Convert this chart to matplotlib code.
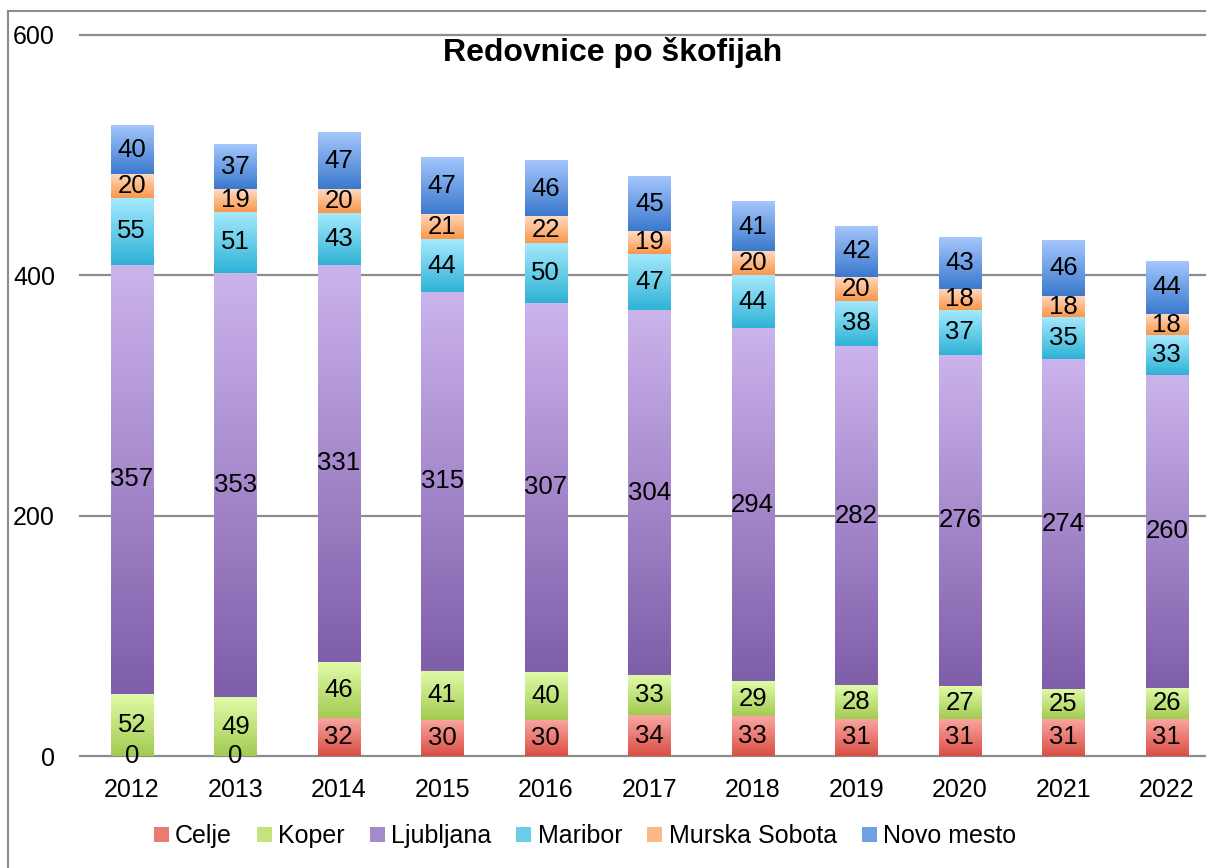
import numpy as np
import matplotlib
matplotlib.use('Agg')
import matplotlib.pyplot as plt
from matplotlib.colors import to_rgb
from matplotlib.patches import Patch
from matplotlib.lines import Line2D

plt.rcParams['font.family'] = ['Liberation Sans', 'DejaVu Sans']

# data
years = ['2012', '2013', '2014', '2015', '2016', '2017', '2018', '2019', '2020', '2021', '2022']
celje = [0, 0, 32, 30, 30, 34, 33, 31, 31, 31, 31]
koper = [52, 49, 46, 41, 40, 33, 29, 28, 27, 25, 26]
ljubljana = [357, 353, 331, 315, 307, 304, 294, 282, 276, 274, 260]
maribor = [55, 51, 43, 44, 50, 47, 44, 38, 37, 35, 33]
murska_sobota = [20, 19, 20, 21, 22, 19, 20, 20, 18, 18, 18]
novo_mesto = [40, 37, 47, 47, 46, 45, 41, 42, 43, 46, 44]

series = [('Celje', celje), ('Koper', koper), ('Ljubljana', ljubljana),
          ('Maribor', maribor), ('Murska Sobota', murska_sobota),
          ('Novo mesto', novo_mesto)]
# (top colour, bottom colour) of the gradient fill
grads = {'Celje': ('#F9A7A1', '#DA4F45'),
         'Koper': ('#E0FBA8', '#A3CB52'),
         'Ljubljana': ('#CBB3EC', '#7F5EAA'),
         'Maribor': ('#A5E9FD', '#2FB3D6'),
         'Murska Sobota': ('#FFDAC3', '#F9974A'),
         'Novo mesto': ('#A4C6FB', '#3B79CE')}

W, H = 1206, 868
fig = plt.figure(figsize=(W / 100, H / 100), dpi=100)
ax = fig.add_axes([80 / W, 1 - 756 / H, 1138.5 / W, 721 / H])

def gradient(top, bottom, n=64):
    t = np.linspace(0, 1, n)[:, None, None]
    return (1 - t) * np.array(to_rgb(top)) + t * np.array(to_rgb(bottom))

x = np.arange(len(years))
bw = 0.406
base = np.zeros(len(years))
for name, vals in series:
    img = gradient(*grads[name])
    for i, v in enumerate(vals):
        if v > 0:
            ax.imshow(img, extent=[x[i] - bw / 2, x[i] + bw / 2, base[i], base[i] + v],
                      aspect='auto', origin='upper', interpolation='bilinear', zorder=2)
        ax.text(x[i], base[i] + v / 2, str(v), ha='center', va='center',
                fontsize=18.5, zorder=3)
    base += np.array(vals)

for yv in [0, 200, 400, 600]:
    ax.axhline(yv, color='#8C8C8C', lw=1.6, zorder=1, clip_on=False)

ax.set_xlim(-0.5, len(years) - 0.5)
ax.set_ylim(0, 600)
ax.set_xticks(x)
ax.set_xticklabels(years, fontsize=18)
ax.set_yticks([0, 200, 400, 600])
ax.set_yticklabels(['0', '200', '400', '600'], fontsize=18)
ax.tick_params(axis='y', length=0, pad=18)
ax.tick_params(axis='x', length=0, pad=16)
for s in ax.spines.values():
    s.set_visible(False)

fig.text(613 / W, 1 - 53 / H, 'Redovnice po škofijah', ha='center', va='center',
         fontsize=23, fontweight='bold')

handles = [Patch(facecolor=tuple((np.array(to_rgb(grads[n][0])) + np.array(to_rgb(grads[n][1]))) / 2),
                 edgecolor='none') for n, _ in series]
fig.legend(handles, [n for n, _ in series], loc='center', bbox_to_anchor=(585 / W, 1 - 836 / H),
           ncol=6, frameon=False, fontsize=18, handlelength=0.6, handleheight=0.55,
           handletextpad=0.25, columnspacing=1.0, borderpad=0)

# chart area border (top and left visible)
fig.add_artist(Line2D([8 / W, 8 / W], [0, 1 - 11 / H], color='#8C8C8C', lw=1.5))
fig.add_artist(Line2D([8 / W, 1], [1 - 11 / H, 1 - 11 / H], color='#8C8C8C', lw=1.5))

fig.savefig('out.png', dpi=100, facecolor='white')
